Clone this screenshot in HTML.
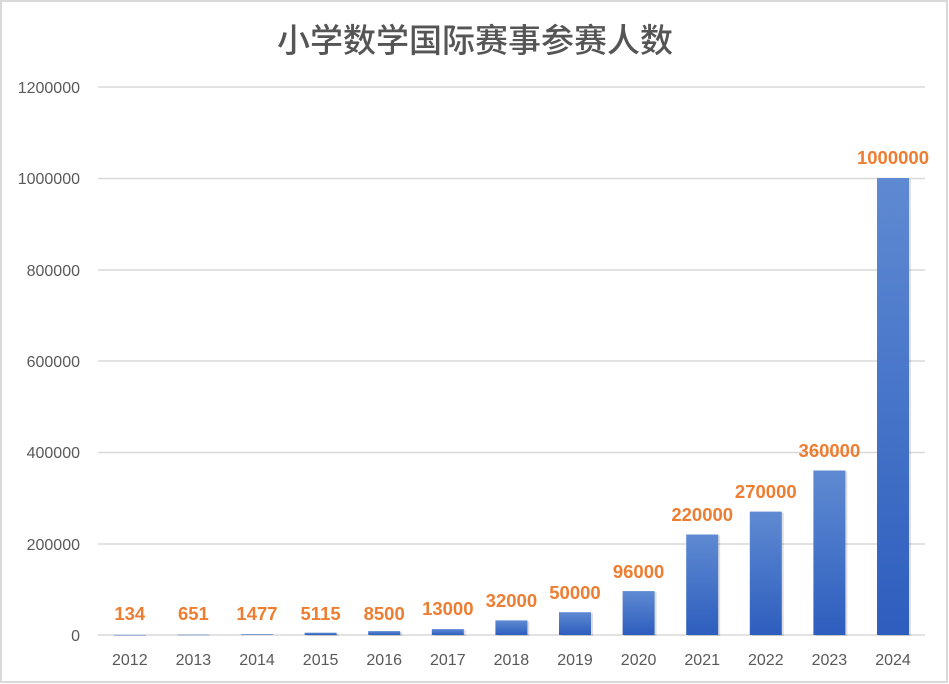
<!DOCTYPE html>
<html><head><meta charset="utf-8"><style>
html,body{margin:0;padding:0;background:#fff;}
svg{display:block;}
</style></head><body>
<svg width="949" height="684" xmlns="http://www.w3.org/2000/svg" font-family="'Liberation Sans','Noto Sans CJK SC',sans-serif">
<defs>
<linearGradient id="g" x1="0" y1="0" x2="0" y2="1">
<stop offset="0" stop-color="#5F8AD2"/><stop offset="1" stop-color="#2D5EBE"/>
</linearGradient>
</defs>
<rect x="1" y="1" width="946" height="681" fill="#fff" stroke="#D9D9D9" stroke-width="2"/>
<text x="475" y="52" text-anchor="middle" font-size="33" font-weight="500" fill="#555" font-family="'Noto Sans CJK SC',sans-serif">小学数学国际赛事参赛人数</text>
<g stroke="#D9D9D9" stroke-width="1.5">
<line x1="98" y1="87" x2="925" y2="87"/><line x1="98" y1="178.5" x2="925" y2="178.5"/>
<line x1="98" y1="270" x2="925" y2="270"/><line x1="98" y1="361" x2="925" y2="361"/>
<line x1="98" y1="452.5" x2="925" y2="452.5"/><line x1="98" y1="544" x2="925" y2="544"/>
<line x1="98" y1="635" x2="925" y2="635"/>
</g>
<g font-size="16" fill="#595959" text-anchor="end">
<text x="80" y="93">1200000</text><text x="80" y="184">1000000</text>
<text x="80" y="276">800000</text><text x="80" y="367">600000</text>
<text x="80" y="458">400000</text><text x="80" y="550">200000</text>
<text x="80" y="641">0</text>
</g>
<g fill="#000" opacity="0.12">
<rect x="306.6" y="633.7" width="32" height="2.3"/>
<rect x="370.2" y="632.1" width="32" height="3.9"/>
<rect x="433.8" y="630.1" width="32" height="5.9"/>
<rect x="497.4" y="621.4" width="32" height="14.6"/>
<rect x="561" y="613.2" width="32" height="22.8"/>
<rect x="624.6" y="592.1" width="32" height="43.9"/>
<rect x="688.2" y="535.5" width="32" height="100.5"/>
<rect x="751.8" y="512.6" width="32" height="123.4"/>
<rect x="815.4" y="471.5" width="32" height="164.5"/>
<rect x="879" y="179" width="32" height="457"/>
</g>
<g fill="url(#g)">
<rect x="113.8" y="634.9" width="32" height="0.5"/>
<rect x="177.4" y="634.7" width="32" height="0.5"/>
<rect x="241" y="634.3" width="32" height="0.7"/>
<rect x="304.6" y="632.7" width="32" height="2.3"/>
<rect x="368.2" y="631.1" width="32" height="3.9"/>
<rect x="431.8" y="629.1" width="32" height="5.9"/>
<rect x="495.4" y="620.4" width="32" height="14.6"/>
<rect x="559" y="612.2" width="32" height="22.8"/>
<rect x="622.6" y="591.1" width="32" height="43.9"/>
<rect x="686.2" y="534.5" width="32" height="100.5"/>
<rect x="749.8" y="511.6" width="32" height="123.4"/>
<rect x="813.4" y="470.5" width="32" height="164.5"/>
<rect x="877" y="178" width="32" height="457"/>
</g>
<g font-size="18.5" font-weight="bold" fill="#ED7D31" text-anchor="middle">
<text x="129.8" y="620">134</text>
<text x="193.4" y="620">651</text>
<text x="257" y="620">1477</text>
<text x="320.6" y="620">5115</text>
<text x="384.2" y="620">8500</text>
<text x="447.8" y="615">13000</text>
<text x="511.4" y="607">32000</text>
<text x="575" y="599">50000</text>
<text x="638.6" y="578">96000</text>
<text x="702.2" y="521">220000</text>
<text x="765.8" y="498">270000</text>
<text x="829.4" y="457">360000</text>
<text x="893" y="164">1000000</text>
</g>
<g font-size="16" fill="#595959" text-anchor="middle">
<text x="129.8" y="665">2012</text>
<text x="193.4" y="665">2013</text>
<text x="257" y="665">2014</text>
<text x="320.6" y="665">2015</text>
<text x="384.2" y="665">2016</text>
<text x="447.8" y="665">2017</text>
<text x="511.4" y="665">2018</text>
<text x="575" y="665">2019</text>
<text x="638.6" y="665">2020</text>
<text x="702.2" y="665">2021</text>
<text x="765.8" y="665">2022</text>
<text x="829.4" y="665">2023</text>
<text x="893" y="665">2024</text>
</g>
</svg>
</body></html>
